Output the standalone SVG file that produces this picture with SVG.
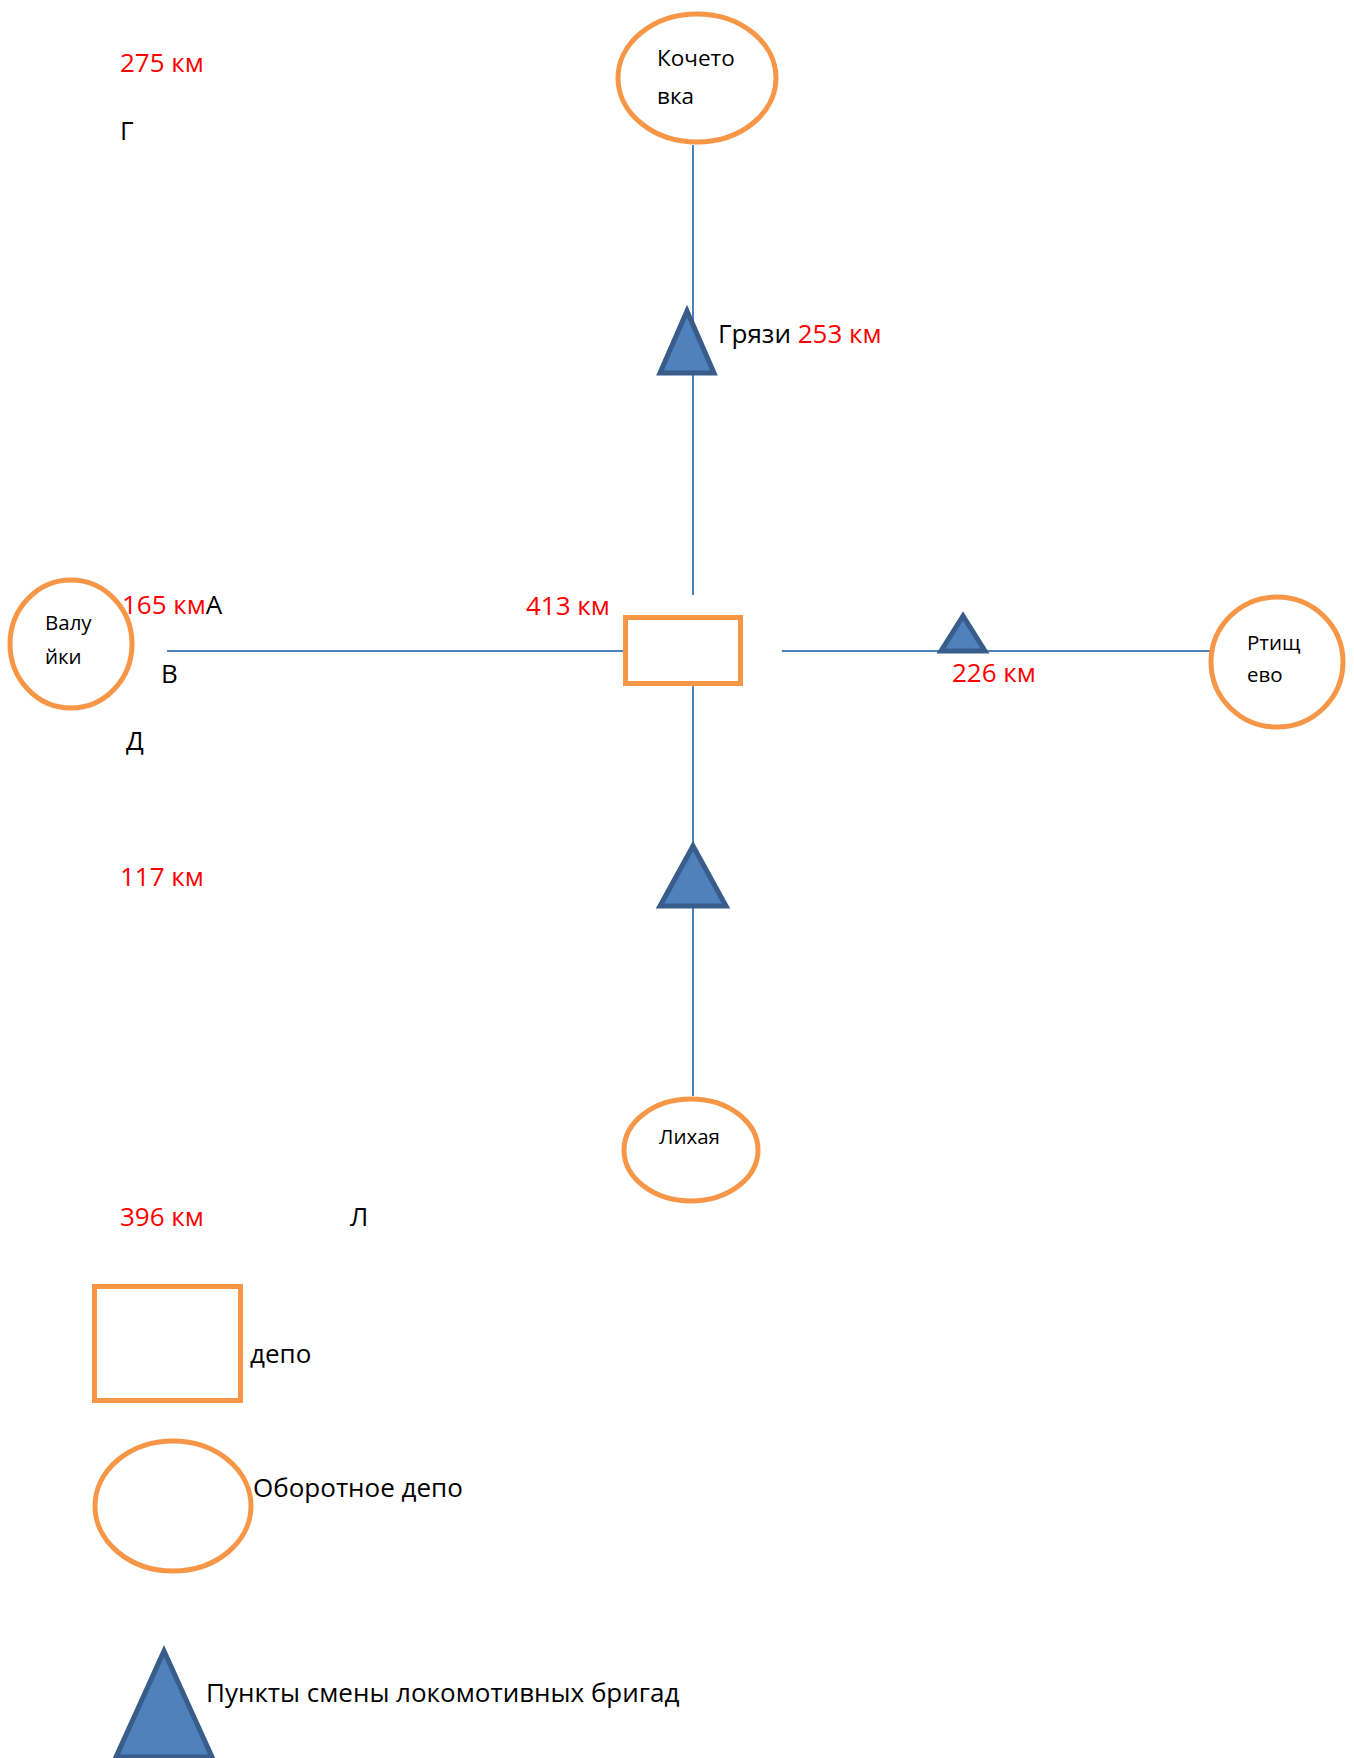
<svg xmlns="http://www.w3.org/2000/svg" width="1354" height="1758" viewBox="0 0 1354 1758">
  <style>
    .line { stroke: #4F81BD; stroke-width: 2; fill: none; }
    .depot { fill: #FFFFFF; stroke: #F79646; stroke-width: 5; }
    .turn { fill: #FFFFFF; stroke: #F79646; stroke-width: 5; }
    .crew { fill: #4F81BD; stroke: #385D8A; stroke-width: 5; stroke-linejoin: miter; }
    text { font-family: "Open Sans", "Noto Sans", sans-serif; fill: #000000; }
    .big { font-size: 26px; }
    .mid { font-size: 22.5px; }
    .small { font-size: 20.5px; }
    .km { fill: #FF0000; }
  </style>
  <rect x="0" y="0" width="1354" height="1758" fill="#FFFFFF"/>

  <!-- railway lines -->
  <g id="connectors">
    <line class="line" x1="693" y1="145" x2="693" y2="595"/>
    <line class="line" x1="167" y1="651" x2="623" y2="651"/>
    <line class="line" x1="782" y1="651" x2="1210" y2="651"/>
    <line class="line" x1="693" y1="686" x2="693" y2="1096"/>
  </g>

  <!-- free labels -->
  <g id="labels">
    <text class="big km" x="120" y="72">275 км</text>
    <text class="big" x="120" y="140">Г</text>
    <text class="big" x="122" y="614"><tspan class="km">165 км</tspan>А</text>
    <text class="big" x="161" y="683">В</text>
    <text class="big" x="126" y="750">Д</text>
    <text class="big km" x="120" y="886">117 км</text>
    <text class="big km" x="526" y="615">413 км</text>
    <text class="big km" x="952" y="682">226 км</text>
    <text class="big km" x="120" y="1226">396 км</text>
    <text class="big" x="350" y="1226">Л</text>
  </g>

  <g id="node-kochetovka">
    <ellipse class="turn" cx="697" cy="78" rx="79" ry="64"/>
    <text class="mid" x="657" y="66">Кочето</text>
    <text class="mid" x="657" y="104">вка</text>
  </g>

  <g id="node-gryazi">
    <polygon class="crew" points="687,311 660,373 714,373"/>
    <text class="big" x="718" y="343">Грязи <tspan class="km">253 км</tspan></text>
  </g>

  <g id="node-valuyki">
    <ellipse class="turn" cx="71" cy="644" rx="61" ry="64"/>
    <text class="small" x="45" y="630">Валу</text>
    <text class="small" x="45" y="664">йки</text>
  </g>

  <g id="node-depot">
    <rect class="depot" x="625.5" y="617.5" width="115" height="66"/>
  </g>

  <g id="node-rtishchevo-point">
    <polygon class="crew" points="963,616 941,651 985,651"/>
  </g>

  <g id="node-rtishchevo">
    <ellipse class="turn" cx="1277" cy="662" rx="66" ry="65"/>
    <text class="small" x="1247" y="650">Ртищ</text>
    <text class="small" x="1247" y="682">ево</text>
  </g>

  <g id="node-south-point">
    <polygon class="crew" points="693,846 660,906 726,906"/>
  </g>

  <g id="node-likhaya">
    <ellipse class="turn" cx="691" cy="1150" rx="67" ry="51"/>
    <text class="small" x="659" y="1144">Лихая</text>
  </g>

  <!-- legend -->
  <g id="legend-depot">
    <rect class="depot" x="94.5" y="1286.5" width="146" height="114"/>
    <text class="big" x="250" y="1363">депо</text>
  </g>
  <g id="legend-turn">
    <ellipse class="turn" cx="173" cy="1506" rx="78" ry="65"/>
    <text class="big" x="253" y="1497">Оборотное депо</text>
  </g>
  <g id="legend-crew">
    <polygon class="crew" points="164,1651 116,1757 212,1757"/>
    <text class="big" x="206" y="1702">Пункты смены локомотивных бригад</text>
  </g>
</svg>
